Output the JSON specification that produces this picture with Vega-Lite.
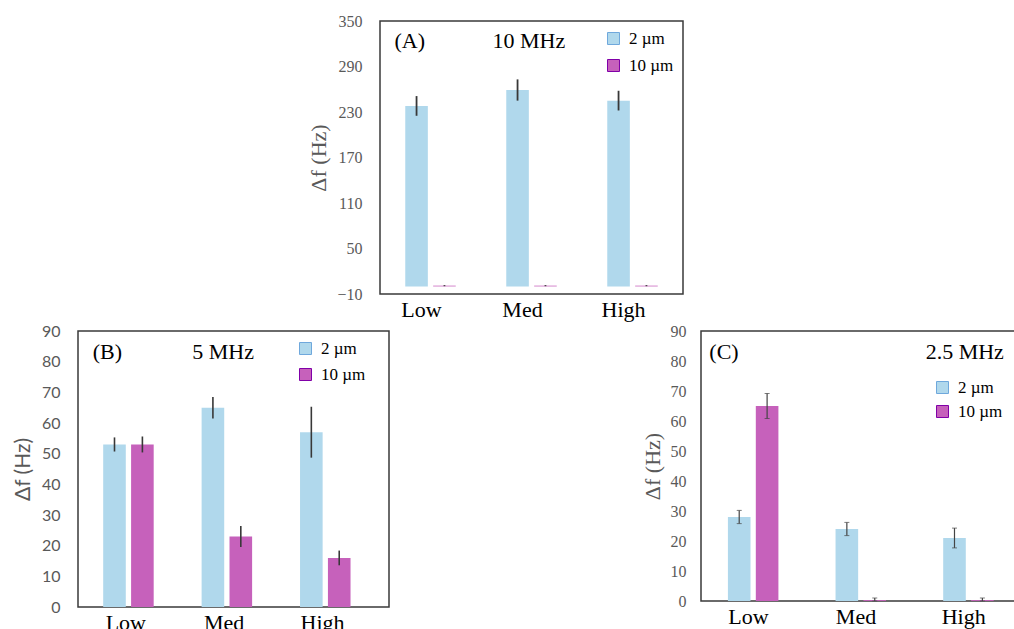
{
  "$schema": "https://vega.github.io/schema/vega-lite/v6.json",
  "padding": {"left": 11, "top": 12, "right": 0, "bottom": 0},
  "background": "white",
  "config": {
    "view": {"stroke": "#3a3a3a", "strokeWidth": 1.5},
    "axis": {"grid": false, "ticks": false, "domain": false, "labelOverlap": false},
    "text": {"font": "Liberation Serif", "fontSize": 22, "color": "black", "baseline": "middle"},
    "legend": {"padding": 0, "symbolType": "square", "symbolSize": 144, "labelFont": "Liberation Serif", "labelFontSize": 17, "labelColor": "black", "labelOffset": 7, "title": null}
  },
  "datasets": {
    "d": [
      {"panel": "A", "level": "Low", "size": "2 µm", "value": 238, "lo": 225, "hi": 251},
      {"panel": "A", "level": "Low", "size": "10 µm", "value": 1, "lo": 0.3, "hi": 1.7},
      {"panel": "A", "level": "Med", "size": "2 µm", "value": 259, "lo": 245, "hi": 273},
      {"panel": "A", "level": "Med", "size": "10 µm", "value": 1, "lo": 0.3, "hi": 1.7},
      {"panel": "A", "level": "High", "size": "2 µm", "value": 245, "lo": 232, "hi": 258},
      {"panel": "A", "level": "High", "size": "10 µm", "value": 1, "lo": 0.3, "hi": 1.7},
      {"panel": "B", "level": "Low", "size": "2 µm", "value": 53, "lo": 50.7, "hi": 55.3},
      {"panel": "B", "level": "Low", "size": "10 µm", "value": 53, "lo": 50.4, "hi": 55.6},
      {"panel": "B", "level": "Med", "size": "2 µm", "value": 65, "lo": 61.5, "hi": 68.5},
      {"panel": "B", "level": "Med", "size": "10 µm", "value": 23, "lo": 19.6, "hi": 26.4},
      {"panel": "B", "level": "High", "size": "2 µm", "value": 57, "lo": 48.7, "hi": 65.3},
      {"panel": "B", "level": "High", "size": "10 µm", "value": 16, "lo": 13.6, "hi": 18.4},
      {"panel": "C", "level": "Low", "size": "2 µm", "value": 28, "lo": 25.8, "hi": 30.2},
      {"panel": "C", "level": "Low", "size": "10 µm", "value": 65, "lo": 60.8, "hi": 69.2},
      {"panel": "C", "level": "Med", "size": "2 µm", "value": 24, "lo": 21.8, "hi": 26.2},
      {"panel": "C", "level": "Med", "size": "10 µm", "value": 0.3, "lo": 0, "hi": 1},
      {"panel": "C", "level": "High", "size": "2 µm", "value": 21, "lo": 17.7, "hi": 24.3},
      {"panel": "C", "level": "High", "size": "10 µm", "value": 0.3, "lo": 0, "hi": 1}
    ]
  },
  "resolve": {"scale": {"x": "independent", "y": "independent", "color": "independent"}, "legend": {"color": "independent"}, "axis": {"x": "independent", "y": "independent"}},
  "spacing": 1,
  "vconcat": [
    {
      "spacing": 0,
      "resolve": {"scale": {"x": "independent", "y": "independent", "color": "independent"}, "legend": {"color": "independent"}},
      "hconcat": [
        {
          "width": 229, "height": 10,
          "data": {"values": [{}]},
          "mark": {"type": "point", "opacity": 0},
          "encoding": {},
          "view": {"stroke": null}
        },
        {
          "width": 303, "height": 273,
          "data": {"name": "d"},
          "transform": [{"filter": "datum.panel === 'A'"}],
          "encoding": {
            "x": {"field": "level", "type": "nominal", "sort": ["Low", "Med", "High"], "scale": {"paddingInner": 0.5, "paddingOuter": 0.25},
              "axis": {"title": null, "labelAngle": 0, "labelFont": "Liberation Serif", "labelFontSize": 22, "labelColor": "black", "labelPadding": 5, "labelOffset": -9}}
          },
          "layer": [
            {
              "mark": {"type": "bar"},
              "encoding": {
                "xOffset": {"field": "size", "type": "nominal", "sort": ["2 µm", "10 µm"], "scale": {"paddingInner": 0.19}},
                "y": {"field": "value", "type": "quantitative", "scale": {"domain": [-10, 350], "nice": false, "zero": false},
                  "axis": {"values": [-10, 50, 110, 170, 230, 290, 350], "tickCount": 20, "labelOverlap": false, "title": "Δf (Hz)", "labelFont": "Liberation Serif", "labelFontSize": 16, "labelColor": "#595959", "labelPadding": 18, "titleFont": "Liberation Serif", "titleFontSize": 22, "titleFontWeight": "normal", "titleColor": "#595959", "titlePadding": 6}},
                "y2": {"datum": 0},
                "color": {"field": "size", "type": "nominal", "sort": ["2 µm", "10 µm"], "scale": {"domain": ["2 µm", "10 µm"], "range": ["#B0D8EC", "#C661BB"]},
                  "legend": {"orient": "none", "legendX": 225, "legendY": 9, "rowPadding": 9, "labelFont": "Liberation Serif", "labelFontSize": 17,
                    "encode": {"symbols": {"update": {"fill": {"signal": "datum.value === '10 µm' ? '#9B00C6' : '#B4DAEE'"}, "stroke": {"signal": "datum.value === '10 µm' ? '#8000a8' : '#6FA8DC'"}, "strokeWidth": {"value": 1}, "opacity": {"value": 1}}}}}}
              }
            },
            {
              "mark": {"type": "rule", "color": "#383838", "strokeWidth": 1.8},
              "encoding": {"xOffset": {"field": "size", "type": "nominal", "sort": ["2 µm", "10 µm"]}, "y": {"field": "lo", "type": "quantitative"}, "y2": {"field": "hi"}}
            },
            {
              "data": {"values": [{"t": "(A)"}]},
              "mark": {"type": "text", "align": "left", "dx": -36},
              "encoding": {"x": {"datum": "Low"}, "y": {"datum": 324}, "text": {"field": "t"}}
            },
            {
              "data": {"values": [{"t": "10 MHz"}]},
              "mark": {"type": "text", "align": "left", "dx": -39},
              "encoding": {"x": {"datum": "Med"}, "y": {"datum": 324}, "text": {"field": "t"}}
            }
          ]
        }
      ]
    },
    {
      "spacing": 250,
      "resolve": {"scale": {"x": "independent", "y": "independent", "color": "independent"}, "legend": {"color": "independent"}},
      "hconcat": [
        {
          "width": 311, "height": 276,
          "data": {"name": "d"},
          "transform": [{"filter": "datum.panel === 'B'"}],
          "encoding": {
            "x": {"field": "level", "type": "nominal", "sort": ["Low", "Med", "High"], "scale": {"paddingInner": 0.48, "paddingOuter": 0.32, "align": 0.4},
              "axis": {"title": null, "labelAngle": 0, "labelFont": "Liberation Serif", "labelFontSize": 22, "labelColor": "black", "labelPadding": 5, "labelOffset": -3}}
          },
          "layer": [
            {
              "mark": {"type": "bar"},
              "encoding": {
                "xOffset": {"field": "size", "type": "nominal", "sort": ["2 µm", "10 µm"], "scale": {"paddingInner": 0.2}},
                "y": {"field": "value", "type": "quantitative", "scale": {"domain": [0, 90], "nice": false},
                  "axis": {"values": [0, 10, 20, 30, 40, 50, 60, 70, 80, 90], "tickCount": 20, "labelOverlap": false, "title": "Δf (Hz)", "labelFont": "Lato", "labelFontSize": 16, "labelColor": "#595959", "labelPadding": 18, "titleFont": "Lato", "titleFontSize": 21, "titleFontWeight": "normal", "titleColor": "#595959", "titlePadding": 8}},
                "color": {"field": "size", "type": "nominal", "sort": ["2 µm", "10 µm"], "scale": {"domain": ["2 µm", "10 µm"], "range": ["#B0D8EC", "#C661BB"]},
                  "legend": {"orient": "none", "legendX": 219, "legendY": 9, "rowPadding": 8, "labelFont": "Liberation Serif", "labelFontSize": 17,
                    "encode": {"symbols": {"update": {"fill": {"signal": "datum.value === '10 µm' ? '#9B00C6' : '#B4DAEE'"}, "stroke": {"signal": "datum.value === '10 µm' ? '#8000a8' : '#6FA8DC'"}, "strokeWidth": {"value": 1}, "opacity": {"value": 1}}}}}}
              }
            },
            {
              "mark": {"type": "rule", "color": "#383838", "strokeWidth": 1.6},
              "encoding": {"xOffset": {"field": "size", "type": "nominal", "sort": ["2 µm", "10 µm"]}, "y": {"field": "lo", "type": "quantitative"}, "y2": {"field": "hi"}}
            },
            {
              "data": {"values": [{"t": "(B)"}]},
              "mark": {"type": "text", "align": "left", "dx": -36},
              "encoding": {"x": {"datum": "Low"}, "y": {"datum": 83}, "text": {"field": "t"}}
            },
            {
              "data": {"values": [{"t": "5 MHz"}]},
              "mark": {"type": "text", "align": "left", "dx": -35},
              "encoding": {"x": {"datum": "Med"}, "y": {"datum": 83}, "text": {"field": "t"}}
            }
          ]
        },
        {
          "width": 324, "height": 270,
          "data": {"name": "d"},
          "transform": [{"filter": "datum.panel === 'C'"}],
          "encoding": {
            "x": {"field": "level", "type": "nominal", "sort": ["Low", "Med", "High"], "scale": {"paddingInner": 0.49, "paddingOuter": 0.25},
              "axis": {"title": null, "labelAngle": 0, "labelFont": "Liberation Serif", "labelFontSize": 22, "labelColor": "black", "labelPadding": 5, "labelOffset": -7}}
          },
          "layer": [
            {
              "mark": {"type": "bar"},
              "encoding": {
                "xOffset": {"field": "size", "type": "nominal", "sort": ["2 µm", "10 µm"], "scale": {"paddingInner": 0.2}},
                "y": {"field": "value", "type": "quantitative", "scale": {"domain": [0, 90], "nice": false},
                  "axis": {"values": [0, 10, 20, 30, 40, 50, 60, 70, 80, 90], "tickCount": 20, "labelOverlap": false, "title": "Δf (Hz)", "labelFont": "Liberation Serif", "labelFontSize": 16, "labelColor": "#595959", "labelPadding": 15, "titleFont": "Liberation Serif", "titleFontSize": 22, "titleFontWeight": "normal", "titleColor": "#595959", "titlePadding": 6}},
                "color": {"field": "size", "type": "nominal", "sort": ["2 µm", "10 µm"], "scale": {"domain": ["2 µm", "10 µm"], "range": ["#B0D8EC", "#C661BB"]},
                  "legend": {"orient": "none", "legendX": 233, "legendY": 48, "rowPadding": 6, "labelFont": "Liberation Serif", "labelFontSize": 17,
                    "encode": {"symbols": {"update": {"fill": {"signal": "datum.value === '10 µm' ? '#9B00C6' : '#B4DAEE'"}, "stroke": {"signal": "datum.value === '10 µm' ? '#8000a8' : '#6FA8DC'"}, "strokeWidth": {"value": 1}, "opacity": {"value": 1}}}}}}
              }
            },
            {
              "mark": {"type": "rule", "color": "#444444", "strokeWidth": 1.2},
              "encoding": {"xOffset": {"field": "size", "type": "nominal", "sort": ["2 µm", "10 µm"]}, "y": {"field": "lo", "type": "quantitative"}, "y2": {"field": "hi"}}
            },
            {
              "mark": {"type": "tick", "color": "#444444", "size": 5, "thickness": 1},
              "encoding": {"xOffset": {"field": "size", "type": "nominal", "sort": ["2 µm", "10 µm"]}, "y": {"field": "lo", "type": "quantitative"}}
            },
            {
              "mark": {"type": "tick", "color": "#444444", "size": 5, "thickness": 1},
              "encoding": {"xOffset": {"field": "size", "type": "nominal", "sort": ["2 µm", "10 µm"]}, "y": {"field": "hi", "type": "quantitative"}}
            },
            {
              "data": {"values": [{"t": "(C)"}]},
              "mark": {"type": "text", "align": "left", "dx": -46},
              "encoding": {"x": {"datum": "Low"}, "y": {"datum": 83}, "text": {"field": "t"}}
            },
            {
              "data": {"values": [{"t": "2.5 MHz"}]},
              "mark": {"type": "text", "align": "left", "dx": -45},
              "encoding": {"x": {"datum": "High"}, "y": {"datum": 83}, "text": {"field": "t"}}
            }
          ]
        }
      ]
    }
  ]
}
